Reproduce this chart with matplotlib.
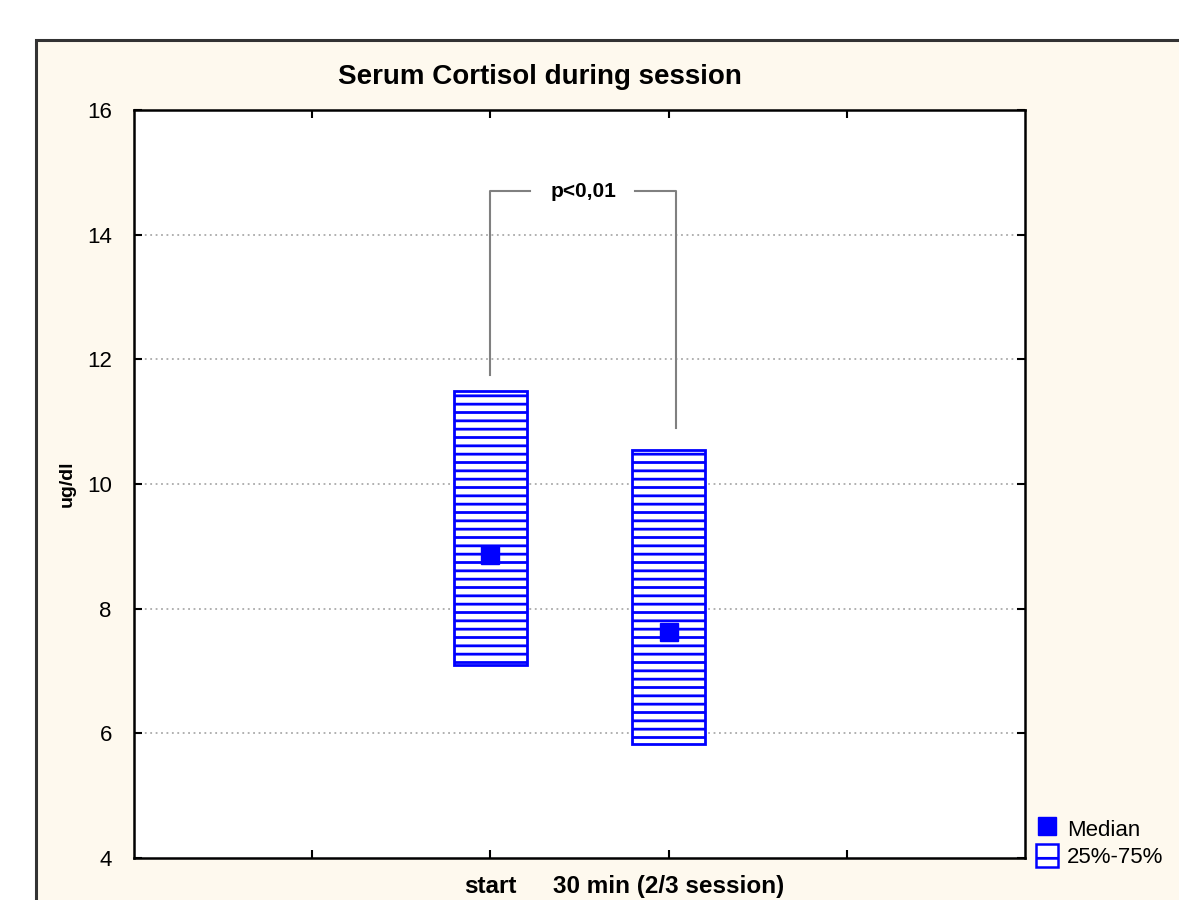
import matplotlib
matplotlib.use('Agg')
import matplotlib.pyplot as plt
from matplotlib.patches import Rectangle, Patch
from matplotlib.lines import Line2D

plt.rcParams['font.family'] = ['Liberation Sans', 'DejaVu Sans']
plt.rcParams['hatch.linewidth'] = 2.0

# data (ug/dl)
groups = ['start', '30 min (2/3 session)']
group_pos = [2, 3]
q25 = [7.10, 5.83]
q75 = [11.50, 10.55]
median = [8.86, 7.63]

# significance bracket
p_text = 'p<0,01'
bracket_top = 14.7
bracket_left_low = 11.75
bracket_right_low = 10.9

blue = '#0000ff'
cream = '#fef9ee'

fig = plt.figure(figsize=(11.79, 9.0), dpi=100)
fig.patch.set_facecolor('white')

# outer panel (cream with dark top/left edge)
fx0, fy1 = 36 / 1179, 1 - 40 / 900
fig.add_artist(Rectangle((fx0, -0.01), 1.05 - fx0, fy1 + 0.01, transform=fig.transFigure,
                         facecolor=cream, edgecolor='#333333', linewidth=2.2, zorder=0))

ax = fig.add_axes([134 / 1179, 42 / 900, 891 / 1179, 748 / 900])
ax.set_facecolor('white')

box_w = 0.41
for pos, lo, hi, med in zip(group_pos, q25, q75, median):
    ax.add_patch(Rectangle((pos - box_w / 2, lo), box_w, hi - lo, facecolor='white',
                           edgecolor=blue, hatch='--', linewidth=2.0, zorder=3))
    ax.plot(pos, med, marker='s', markersize=13, color=blue, linestyle='none', zorder=4)

# bracket
gray = '#808080'
xl, xr = 2.0, 3.04
ax.plot([xl, xl, 2.22], [bracket_left_low, bracket_top, bracket_top], color=gray, lw=1.5, zorder=2)
ax.plot([2.81, xr, xr], [bracket_top, bracket_top, bracket_right_low], color=gray, lw=1.5, zorder=2)
ax.text(2.52, bracket_top, p_text, ha='center', va='center', fontsize=15, fontweight='bold')

ax.set_xlim(0, 5)
ax.set_ylim(4, 16)
ax.set_yticks([4, 6, 8, 10, 12, 14, 16])
ax.set_xticks([1, 2, 3, 4])
ax.set_xticklabels(['', groups[0], groups[1], ''], fontsize=17.5, fontweight='bold')
ax.tick_params(axis='y', labelsize=16, direction='in', length=6, width=1.5, right=True, pad=16)
ax.tick_params(axis='x', direction='in', length=6, width=1.5, top=True, pad=12)
for y in [6, 8, 10, 12, 14]:
    ax.axhline(y, color='#aaaaaa', lw=1.3, linestyle=(0, (1, 2)), zorder=1)
for s in ax.spines.values():
    s.set_linewidth(1.8)
    s.set_color('black')

ax.set_ylabel('ug/dl', fontsize=14, fontweight='bold', labelpad=8)

fig.text(540 / 1179, 1 - 77 / 900, 'Serum Cortisol during session', ha='center', va='center',
         fontsize=20, fontweight='bold')

handles = [Line2D([], [], marker='s', color=blue, linestyle='none', markersize=13),
           Patch(facecolor='white', edgecolor=blue, hatch='-', linewidth=1.8)]
fig.legend(handles, ['Median', '25%-75%'], loc='lower left',
           bbox_to_anchor=(1036 / 1179, 1 - 868 / 900), frameon=False, fontsize=16,
           handlelength=1.0, handleheight=1.2, handletextpad=0.4, labelspacing=0.15,
           borderaxespad=0, borderpad=0)

fig.savefig('out.png', dpi=100, facecolor=fig.get_facecolor())
